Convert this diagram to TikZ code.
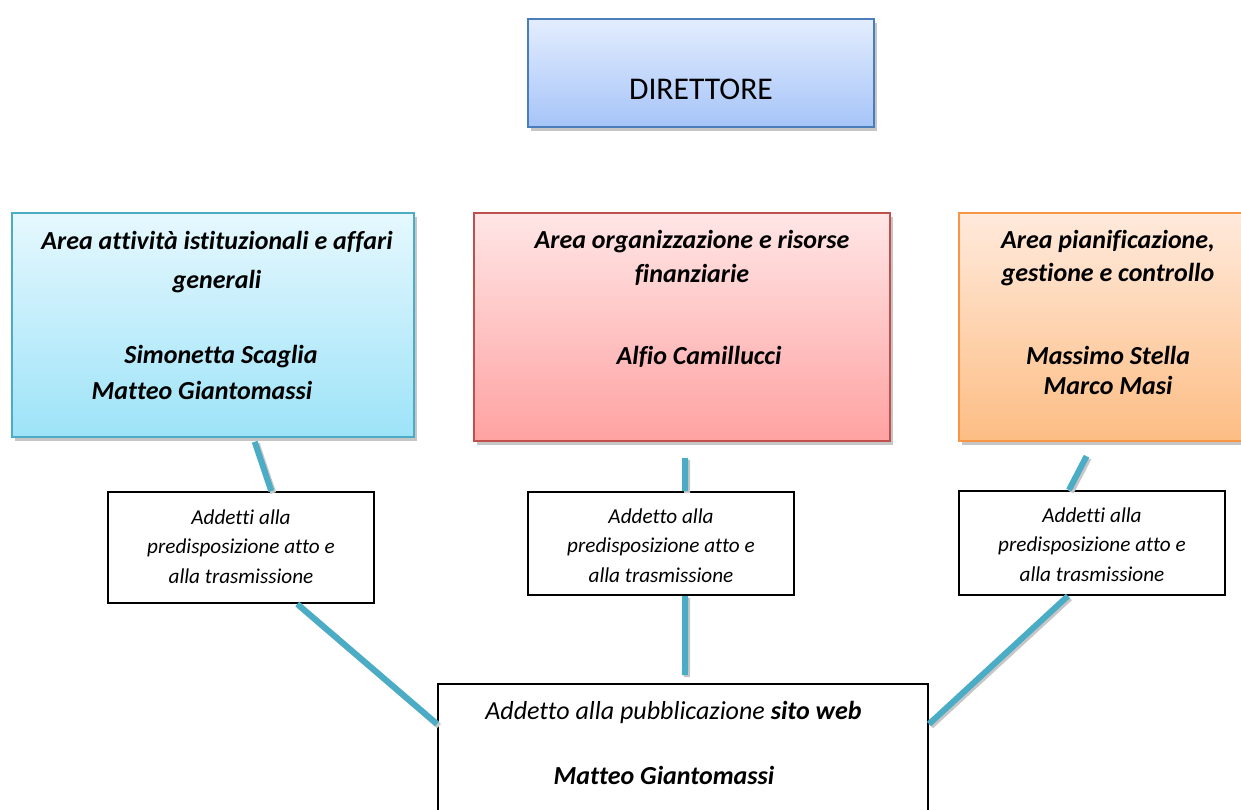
\documentclass[tikz,border=0pt]{standalone}
\usepackage{fontspec}
\setmainfont{Carlito}[Ligatures=NoCommon]
\usetikzlibrary{calc, shadows}
\definecolor{dirtop}{HTML}{E3EDFE}
\definecolor{dirbot}{HTML}{A6C4F8}
\definecolor{dirline}{HTML}{4A7EBB}
\definecolor{istitop}{HTML}{E6F8FE}
\definecolor{istibot}{HTML}{9DE3F8}
\definecolor{istiline}{HTML}{4BACC6}
\definecolor{orgtop}{HTML}{FFE6E6}
\definecolor{orgbot}{HTML}{FFA2A2}
\definecolor{orgline}{HTML}{C0504D}
\definecolor{piantop}{HTML}{FFEADC}
\definecolor{pianbot}{HTML}{FDBD84}
\definecolor{pianline}{HTML}{F79646}
\definecolor{linkcol}{HTML}{4BACC6}

\begin{document}
\begin{tikzpicture}[x=0.5pt, y=-0.5pt,
  areabox/.style={anchor=north west, line width=1pt, inner xsep=4pt, inner ysep=0pt, align=center,
    drop shadow={shadow xshift=1.5pt, shadow yshift=-1.8pt, fill=gray!45, opacity=1},
    font=\fontsize{13pt}{17pt}\selectfont\bfseries\itshape},
  addbox/.style={anchor=north west, draw=black, line width=1pt, fill=white, inner xsep=4pt, inner ysep=0pt,
    align=center, minimum width=133pt, font=\fontsize{10.6pt}{14.7pt}\selectfont\itshape},
  link/.style={draw=linkcol, line width=3pt,
    preaction={draw=gray!45, line width=3pt, transform canvas={xshift=1pt, yshift=-1pt}}}]
  \useasboundingbox (0,0) rectangle (1241,809);
  \clip (0,0) rectangle (1241,809);

  % direttore
  \node[anchor=north west, draw=dirline, line width=1pt, top color=dirtop, bottom color=dirbot,
    drop shadow={shadow xshift=1.5pt, shadow yshift=-1.8pt, fill=gray!45, opacity=1},
    minimum width=173pt, inner ysep=0pt, text height=40pt, text depth=14pt,
    font=\fontsize{15.8pt}{19pt}\selectfont] (dir) at (527,18) {DIRETTORE};

  % aree
  \node[areabox, draw=istiline, top color=istitop, bottom color=istibot, minimum width=201pt,
    text height=93pt, text depth=19pt] (ist) at (11,212)
    {\hspace*{4pt}Area attività istituzionali e affari\\[2.5pt] \hspace*{4pt}generali\\[20.5pt]
     \hspace*{8pt}Simonetta Scaglia\\[1pt] Matteo Giantomassi\hspace*{11pt}};
  \node[areabox, draw=orgline, top color=orgtop, bottom color=orgbot, minimum width=208pt,
    text height=75.5pt, text depth=38.5pt] (org) at (473,212)
    {\hspace*{10pt}Area organizzazione e risorse\\ \hspace*{10pt}finanziarie\\[24pt] \hspace*{17pt}Alfio Camillucci};
  \node[areabox, draw=pianline, top color=piantop, bottom color=pianbot, minimum width=149pt,
    text height=90.5pt, text depth=23.5pt] (pian) at (958,212)
    {Area pianificazione,\\[-0.5pt] gestione e controllo\\[24.5pt] Massimo Stella\\[-2pt] Marco Masi};

  % addetti
  \node[addbox, text height=45.5pt, text depth=10pt] (addist) at (107,491)
    {Addetti alla\\ predisposizione atto e\\ alla trasmissione};
  \node[addbox, text height=45pt, text depth=6.5pt] (addorg) at (527,491)
    {Addetto alla\\ predisposizione atto e\\ alla trasmissione};
  \node[addbox, text height=45pt, text depth=7pt] (addpian) at (958,490)
    {Addetti alla\\ predisposizione atto e\\ alla trasmissione};

  % sito web
  \node[addbox, minimum width=245pt, text height=50pt, text depth=40pt,
    font=\fontsize{13pt}{15pt}\selectfont\itshape] (web) at (437,683)
    {Addetto alla pubblicazione \textbf{sito web}\hspace*{9.5pt}\\[17.5pt] \textbf{Matteo Giantomassi}\hspace*{19pt}};

  \draw[link, shorten <=2pt] ($(ist.south west)!0.6!(ist.south east)$) -- ($(addist.north west)!0.613!(addist.north east)$);
  \draw[link] ($(addist.south west)!0.71!(addist.south east)$) -- ($(web.north west)+(0,41)$);
  \draw[link, shorten <=8pt] ($(org.south west)!0.507!(org.south east)$) -- ($(addorg.north west)!0.59!(addorg.north east)$);
  \draw[link, shorten >=4pt] ($(addorg.south west)!0.59!(addorg.south east)$) -- ($(web.north west)!0.504!(web.north east)$);
  \draw[link, shorten <=8pt] ($(pian.south west)!0.453!(pian.south east)$) -- ($(addpian.north west)!0.414!(addpian.north east)$);
  \draw[link] ($(addpian.south west)!0.41!(addpian.south east)$) -- ($(web.north east)+(0,41)$);
\end{tikzpicture}
\end{document}
